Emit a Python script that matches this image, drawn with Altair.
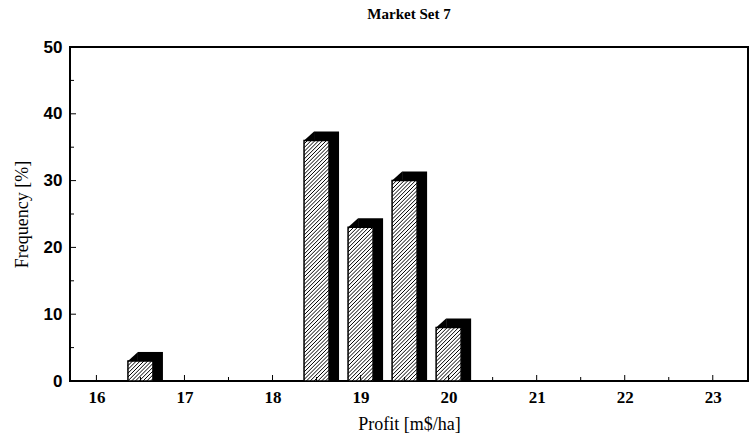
import altair as alt
import pandas as pd

# Histogram of simulated profit, market set 7
profit = [16.5, 18.5, 19.0, 19.5, 20.0]   # bin centres [m$/ha]
freq = [3, 36, 23, 30, 8]                 # frequency [%]
x_ticks = [16, 17, 18, 19, 20, 21, 22, 23]
y_ticks = [0, 10, 20, 30, 40, 50]

X_DOM = [15.7, 23.4]
Y_DOM = [0, 50]
W, H = 678, 334
PX_X = W / (X_DOM[1] - X_DOM[0])   # pixels per profit unit
PX_Y = H / (Y_DOM[1] - Y_DOM[0])   # pixels per percent

HALF = 0.142                 # half width of the bar front face
DX = 10 / PX_X               # 3D depth, horizontal
DY = 9 / PX_Y                # 3D depth, vertical
HATCH_STEP = 3.8 / PX_X      # spacing of the diagonal hatch

front_rows, back_rows, tri_rows, hatch_rows = [], [], [], []
for i, (c, v) in enumerate(zip(profit, freq)):
    a, b = c - HALF, c + HALF
    front_rows.append({"x0": a, "x1": b, "y0": 0, "y1": v})
    back_rows.append({"x0": a + DX, "x1": b + DX, "y0": 0, "y1": v + DY})
    tri_rows.append({"bar": i, "x": a, "y": v, "y2": v})
    tri_rows.append({"bar": i, "x": a + DX, "y": v + DY, "y2": v})
    # diagonal hatch lines w = u + k inside the front face (w = y in x-pixel units)
    top_w = v * PX_Y / PX_X
    n0 = int((-b) / HATCH_STEP) - 1
    n1 = int((top_w - a) / HATCH_STEP) + 1
    for n in range(n0, n1 + 1):
        k = n * HATCH_STEP
        lo = max(a, -k)
        hi = min(b, top_w - k)
        if hi > lo:
            hatch_rows.append({
                "x": lo, "y": (lo + k) * PX_X / PX_Y,
                "x2": hi, "y2": (hi + k) * PX_X / PX_Y,
            })

xs = alt.Scale(domain=X_DOM, nice=False, zero=False)
ys = alt.Scale(domain=Y_DOM, nice=False)

x_axis = alt.Axis(
    values=x_ticks, format="d", ticks=False, domain=False, grid=False,
    labelFont="Liberation Serif", labelFontWeight="bold", labelFontSize=17,
    labelColor="black", labelPadding=8,
    title="Profit [m$/ha]", titleFont="Liberation Serif", titleFontWeight="normal",
    titleFontSize=18, titleColor="black", titleY=43, titleBaseline="middle",
)
y_axis = alt.Axis(
    values=y_ticks, format="d", ticks=False, domain=False, grid=False,
    labelFont="Liberation Sans", labelFontWeight="bold", labelFontSize=17,
    labelColor="black", labelPadding=8,
    title="Frequency [%]", titleFont="Liberation Serif", titleFontWeight="normal",
    titleFontSize=18, titleColor="black", titleX=-48, titleY=H / 2,
    titleAngle=270, titleBaseline="middle", titleAlign="center",
)

back = alt.Chart(pd.DataFrame(back_rows)).mark_rect(color="black").encode(
    x=alt.X("x0:Q", scale=xs, axis=x_axis), x2="x1:Q",
    y=alt.Y("y0:Q", scale=ys, axis=y_axis), y2="y1:Q",
)
corner = alt.Chart(pd.DataFrame(tri_rows)).mark_area(color="black").encode(
    x=alt.X("x:Q", scale=xs), y=alt.Y("y:Q", scale=ys), y2="y2:Q",
    detail="bar:N",
)
front = alt.Chart(pd.DataFrame(front_rows)).mark_rect(
    fill="white", stroke="black", strokeWidth=1.5
).encode(
    x=alt.X("x0:Q", scale=xs), x2="x1:Q",
    y=alt.Y("y0:Q", scale=ys), y2="y1:Q",
)
hatch = alt.Chart(pd.DataFrame(hatch_rows)).mark_rule(
    color="black", strokeWidth=1.0
).encode(
    x=alt.X("x:Q", scale=xs), x2="x2:Q",
    y=alt.Y("y:Q", scale=ys), y2="y2:Q",
)

# inward tick marks along the bottom and left frame
xt_rows = []
for t in x_ticks:
    xt_rows.append({"x": t, "y": 0, "y2": 6 / PX_Y})
    if t + 0.5 < X_DOM[1]:
        xt_rows.append({"x": t + 0.5, "y": 0, "y2": 4 / PX_Y})
yt_rows = []
for t in range(0, 51, 5):
    yt_rows.append({"y": t, "x": X_DOM[0], "x2": X_DOM[0] + (6 if t % 10 == 0 else 4) / PX_X})

xticks = alt.Chart(pd.DataFrame(xt_rows)).mark_rule(color="black", strokeWidth=1).encode(
    x=alt.X("x:Q", scale=xs), y=alt.Y("y:Q", scale=ys), y2="y2:Q",
)
yticks = alt.Chart(pd.DataFrame(yt_rows)).mark_rule(color="black", strokeWidth=1).encode(
    y=alt.Y("y:Q", scale=ys), x=alt.X("x:Q", scale=xs), x2="x2:Q",
)

chart = alt.layer(back, corner, front, hatch, xticks, yticks).properties(
    width=W, height=H,
    background="white",
    title=alt.TitleParams(
        "Market Set 7", font="Liberation Serif", fontWeight="bold", fontSize=15,
        color="black", anchor="middle", baseline="bottom", offset=1,
    ),
    autosize=alt.AutoSizeParams(type="none"),
    padding={"left": 70, "top": 47, "right": 2, "bottom": 57},
).configure_view(stroke="black", strokeWidth=2)

chart.save("out.html", embed_options={"renderer": "svg", "actions": False})
